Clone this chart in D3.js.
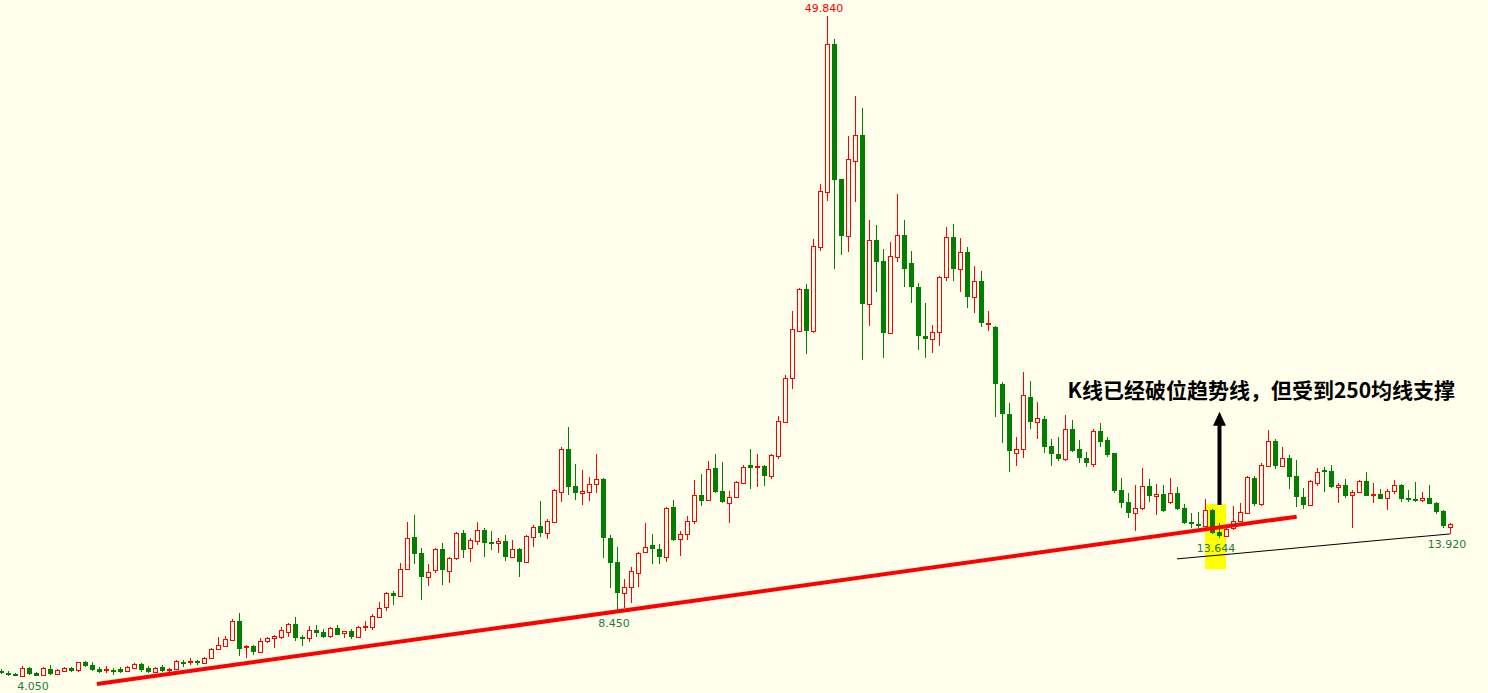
<html>
<head>
<meta charset="utf-8">
<style>
body {
  margin: 0;
  background: #ffffec;
  overflow: hidden;
}

svg {
  display: block;
}

.lbl {
  font-family: "DejaVu Sans";
  font-size: 11px;
}

.note {
  font-family: "Noto Sans CJK SC";
  font-weight: bold;
  font-size: 21px;
  fill: #000;
}
</style>
</head>
<body>
<script src="https://cdnjs.cloudflare.com/ajax/libs/d3/7.8.5/d3.min.js"></script>
<script>
// daily K-line (10 per row)
var opens = [
  4.42, 4.26, 4.19, 4.07, 4.58, 4.24, 4.10, 4.51, 4.17, 4.42,
  4.60, 4.47, 5.00, 4.79, 4.56, 4.51, 4.47, 4.51, 4.40, 4.63,
  4.86, 4.60, 4.35, 4.65, 4.45, 4.51, 5.04, 5.04, 5.07, 4.93,
  5.30, 5.90, 6.15, 6.55, 7.86, 6.04, 6.13, 5.74, 6.50, 6.66,
  6.78, 7.08, 7.66, 6.78, 6.66, 7.24, 7.08, 6.85, 7.40, 7.01,
  7.17, 6.78, 7.43, 7.47, 8.16, 8.81, 9.78, 9.62, 11.45, 13.67,
  12.60, 10.94, 11.37, 12.86, 11.35, 12.21, 13.95, 12.91, 13.43, 14.18,
  13.34, 13.29, 13.41, 12.32, 12.86, 11.98, 13.67, 14.45, 13.94, 14.75,
  16.83, 19.79, 17.23, 16.76, 16.83, 17.35, 17.72, 13.64, 11.98, 9.79,
  10.24, 11.21, 12.63, 13.11, 12.88, 12.32, 15.75, 13.53, 13.88, 14.82,
  16.58, 16.23, 18.48, 16.88, 16.07, 16.44, 17.41, 18.66, 18.54, 18.61,
  17.94, 19.33, 21.69, 24.70, 28.00, 30.89, 28.00, 33.82, 37.64, 47.88,
  38.52, 34.58, 39.79, 41.57, 29.83, 34.29, 32.83, 27.86, 33.13, 34.63,
  32.69, 31.05, 27.65, 27.42, 27.88, 31.70, 34.47, 32.25, 33.43, 30.31,
  31.44, 28.46, 28.23, 24.30, 22.22, 19.49, 19.81, 23.38, 21.64, 21.87,
  20.00, 19.42, 19.09, 21.16, 19.77, 19.17, 18.77, 21.04, 20.42, 19.49,
  16.95, 16.14, 15.33, 15.68, 17.23, 16.56, 16.67, 16.10, 16.72, 15.72,
  14.73, 14.59, 14.47, 15.56, 14.02, 13.78, 14.29, 14.82, 15.38, 17.81,
  15.96, 18.63, 20.35, 18.63, 19.15, 17.92, 16.49, 15.89, 17.46, 18.34,
  18.27, 17.18, 17.28, 16.60, 16.81, 17.55, 16.58, 16.67, 16.37, 16.86,
  17.30, 16.37, 16.30, 16.23, 16.37, 16.03, 15.52, 14.40
]

var highs = [
  4.54, 4.40, 4.24, 4.74, 4.65, 4.30, 4.69, 4.79, 4.56, 4.65,
  4.67, 5.04, 5.09, 5.04, 4.69, 4.74, 4.58, 4.65, 4.74, 4.93,
  4.93, 4.74, 4.65, 4.79, 4.60, 5.16, 5.16, 5.28, 5.16, 5.39,
  5.97, 6.74, 6.82, 7.98, 8.40, 6.18, 6.20, 6.66, 6.78, 6.89,
  7.43, 7.75, 8.16, 6.89, 7.52, 7.59, 7.29, 7.47, 7.59, 7.19,
  7.31, 7.52, 7.86, 8.35, 9.20, 9.87, 9.94, 11.91, 14.73, 15.22,
  12.93, 11.82, 12.95, 13.29, 12.32, 14.04, 14.18, 13.60, 14.75, 14.29,
  14.11, 13.60, 13.83, 13.48, 12.91, 13.83, 14.50, 16.21, 14.92, 17.00,
  19.95, 21.34, 18.75, 18.34, 17.87, 19.45, 17.76, 13.83, 13.02, 10.75,
  11.63, 12.67, 14.64, 13.90, 13.21, 15.79, 16.26, 14.11, 15.15, 17.64,
  18.07, 18.96, 19.43, 18.89, 16.90, 17.59, 18.69, 19.77, 19.43, 18.66,
  19.43, 22.08, 24.93, 29.36, 30.98, 31.24, 34.38, 38.17, 49.84, 48.20,
  38.55, 41.52, 44.27, 43.46, 35.67, 35.32, 33.66, 34.13, 37.48, 35.67,
  33.52, 31.32, 29.94, 28.41, 31.81, 35.17, 35.40, 34.44, 33.82, 32.48,
  32.15, 29.38, 28.34, 24.42, 23.00, 20.65, 25.11, 24.51, 23.07, 22.10,
  20.49, 20.61, 22.15, 21.80, 20.42, 19.56, 21.16, 21.62, 20.61, 19.52,
  17.76, 16.72, 17.30, 18.45, 17.69, 17.34, 17.30, 17.76, 17.18, 15.96,
  15.33, 15.40, 16.30, 15.63, 14.64, 14.40, 15.84, 16.07, 17.92, 17.92,
  18.80, 21.11, 20.46, 19.95, 19.38, 19.03, 17.07, 17.64, 18.45, 18.57,
  18.68, 17.46, 17.74, 16.95, 17.64, 18.20, 17.41, 17.02, 17.02, 17.64,
  17.35, 16.95, 17.48, 16.83, 17.30, 16.10, 15.56, 14.66
]

var lows = [
  4.19, 4.08, 4.06, 4.06, 4.10, 4.05, 4.08, 4.12, 4.13, 4.35,
  4.35, 4.35, 4.69, 4.42, 4.24, 4.28, 4.12, 4.24, 4.33, 4.56,
  4.35, 4.28, 4.24, 4.35, 4.35, 4.47, 4.69, 4.81, 4.81, 4.86,
  5.25, 5.85, 6.08, 6.48, 5.44, 5.32, 5.51, 5.71, 6.36, 5.97,
  6.59, 6.78, 6.50, 6.15, 6.39, 6.73, 6.71, 6.66, 6.89, 6.71,
  6.59, 6.71, 7.19, 7.24, 8.09, 8.58, 8.97, 9.55, 11.40, 11.82,
  9.32, 10.31, 11.19, 10.36, 10.51, 12.09, 12.25, 11.98, 13.14, 12.32,
  12.82, 12.60, 12.05, 12.28, 10.94, 11.91, 13.02, 13.71, 13.53, 14.73,
  16.14, 16.60, 16.26, 15.91, 16.21, 16.76, 12.21, 10.18, 8.45, 8.74,
  9.09, 10.24, 12.55, 11.85, 11.81, 11.98, 13.41, 12.39, 13.46, 14.57,
  15.86, 16.19, 16.72, 16.07, 14.68, 16.37, 17.37, 16.99, 17.14, 17.25,
  17.69, 19.10, 21.62, 23.95, 27.93, 26.36, 27.81, 33.55, 37.01, 32.28,
  33.25, 33.43, 36.94, 25.97, 28.34, 30.65, 26.12, 27.81, 32.78, 31.05,
  29.94, 26.66, 26.09, 26.43, 26.96, 31.46, 31.46, 30.66, 29.55, 29.21,
  28.24, 27.97, 22.03, 20.19, 18.18, 18.63, 19.15, 21.16, 20.49, 19.53,
  18.63, 18.96, 18.96, 19.56, 18.85, 18.55, 18.51, 19.95, 19.22, 16.76,
  15.72, 14.99, 14.13, 15.56, 16.14, 15.22, 15.44, 15.98, 15.56, 14.57,
  14.29, 14.22, 14.40, 13.88, 13.644, 13.67, 14.17, 14.75, 15.33, 15.84,
  15.86, 18.56, 18.42, 18.56, 17.04, 15.79, 15.61, 15.84, 17.21, 16.79,
  17.11, 16.03, 16.37, 14.30, 16.72, 16.53, 16.07, 16.30, 15.56, 16.67,
  16.10, 16.10, 16.14, 16.12, 15.98, 15.29, 14.29, 13.92
]

var closes = [
  4.24, 4.19, 4.09, 4.58, 4.17, 4.07, 4.58, 4.17, 4.47, 4.58,
  4.42, 5.00, 4.74, 4.47, 4.35, 4.55, 4.40, 4.35, 4.65, 4.88,
  4.47, 4.35, 4.58, 4.40, 4.51, 5.11, 4.97, 5.11, 5.00, 5.32,
  5.90, 6.20, 6.60, 7.86, 5.94, 6.13, 5.74, 6.48, 6.66, 6.82,
  7.24, 7.66, 6.71, 6.69, 7.24, 7.05, 6.78, 7.40, 6.91, 7.17,
  6.78, 7.43, 7.52, 8.21, 8.74, 9.78, 9.62, 11.45, 13.60, 12.51,
  10.94, 11.28, 12.86, 11.40, 12.21, 13.95, 12.79, 13.48, 14.18, 13.29,
  13.20, 13.39, 12.32, 12.84, 11.98, 13.76, 14.40, 13.94, 14.80, 16.95,
  19.79, 17.18, 16.76, 16.88, 17.35, 17.69, 13.60, 11.91, 9.79, 10.24,
  11.35, 12.60, 13.02, 12.88, 12.32, 15.68, 13.48, 13.90, 14.82, 16.58,
  16.21, 18.43, 16.81, 16.14, 16.44, 17.48, 18.57, 18.49, 18.59, 17.94,
  19.36, 21.73, 24.70, 28.09, 30.89, 28.00, 33.87, 37.68, 47.88, 38.45,
  34.58, 39.88, 41.57, 29.85, 34.29, 32.78, 27.81, 33.18, 34.61, 32.25,
  31.01, 27.60, 27.42, 27.93, 31.74, 34.47, 32.25, 33.43, 30.31, 31.44,
  28.52, 28.53, 24.28, 22.20, 19.65, 19.77, 23.52, 21.64, 21.92, 19.95,
  19.42, 19.09, 21.16, 19.68, 19.15, 18.80, 21.04, 20.30, 19.38, 16.90,
  16.07, 15.38, 15.72, 17.23, 16.56, 16.65, 15.51, 16.72, 15.63, 14.68,
  14.57, 14.47, 15.56, 13.99, 13.78, 14.22, 14.82, 15.40, 17.83, 15.96,
  18.68, 20.35, 18.63, 19.15, 17.83, 16.49, 15.91, 17.55, 18.22, 18.22,
  17.18, 17.28, 16.55, 16.81, 17.55, 16.55, 16.67, 16.35, 16.86, 17.28,
  16.33, 16.28, 16.21, 16.37, 16.00, 15.45, 14.47, 14.57
]

// 250-day average, only the part that is drawn
var maIdx = [168, 172, 176, 180, 184, 188, 192, 196, 200, 204, 207]
var maVals = [12.17, 12.35, 12.52, 12.70, 12.88, 13.06, 13.24, 13.42, 13.60, 13.77, 13.90]

// hand drawn trend line (candle index, price)
var trendIdx = [13.7, 185.1]
var trendPrice = [3.50, 15.10]

// yellow box + arrow
var boxIdx = [172, 175]
var boxPrice = [11.45, 15.98]
var arrowIdx = 174
var arrowPrice = [15.91, 22.38]

var noteText = "K线已经破位趋势线，但受到250均线支撑"

// marked extremes: [candle index, value text, is high]
var marks = [
  [118, "49.840", true],
  [5, "4.050", false],
  [88, "8.450", false],
  [174, "13.644", false],
  [207, "13.920", false]
]

var width = 1488,
    height = 693;

var up = "#ff0000",
    down = "#007f00",
    bg = "#ffffec";

var svg = d3.select("body")
  .append("svg")
  .attr("width", width)
  .attr("height", height)

var x = d3.scaleLinear().domain([0, opens.length - 1]).range([1, 1 + 7 * (opens.length - 1)])
var y = d3.scaleLinear().domain([4.05, 49.84]).range([676, 15.7])

var candles = opens.map(function(o, i) {
  return { i: i, open: o, high: highs[i], low: lows[i], close: closes[i] }
})

// highlight box sits behind everything
svg.append("rect")
  .attr("x", x(boxIdx[0]))
  .attr("y", y(boxPrice[1]))
  .attr("width", x(boxIdx[1]) - x(boxIdx[0]))
  .attr("height", y(boxPrice[0]) - y(boxPrice[1]))
  .attr("fill", "#ffff00")

var maLine = d3.line()
  .x(function(d, k) { return x(maIdx[k]) })
  .y(function(d) { return y(d) })

svg.append("path")
  .attr("d", maLine(maVals))
  .attr("fill", "none")
  .attr("stroke", "#000")
  .attr("stroke-width", 1)

var g = svg.selectAll("g.candle")
  .data(candles)
  .enter().append("g")
  .attr("class", "candle")

g.each(function(d) {
  var el = d3.select(this)
  var cx = x(d.i)
  var isUp = d.close >= d.open
  var top = Math.round(y(Math.max(d.open, d.close)))
  var bot = Math.round(y(Math.min(d.open, d.close)))
  var hi = Math.round(y(d.high))
  var lo = Math.round(y(d.low))
  var col = isUp ? up : down
  var h = Math.max(bot - top, 1)

  if (isUp) {
    if (hi < top) {
      el.append("line").attr("x1", cx + 0.5).attr("x2", cx + 0.5)
        .attr("y1", hi).attr("y2", top).attr("stroke", col)
    }
    if (lo > bot) {
      el.append("line").attr("x1", cx + 0.5).attr("x2", cx + 0.5)
        .attr("y1", bot).attr("y2", lo).attr("stroke", col)
    }
    el.append("rect")
      .attr("x", cx - 1.5)
      .attr("y", top + 0.5)
      .attr("width", 4)
      .attr("height", h)
      .attr("fill", bg)
      .attr("stroke", col)
      .attr("stroke-width", 1)
  } else {
    el.append("line").attr("x1", cx + 0.5).attr("x2", cx + 0.5)
      .attr("y1", hi).attr("y2", lo).attr("stroke", col)
    el.append("rect")
      .attr("x", cx - 2)
      .attr("y", top)
      .attr("width", 5)
      .attr("height", Math.max(h, 2))
      .attr("fill", col)
  }
})

// trend line on top of the candles
svg.append("line")
  .attr("x1", x(trendIdx[0]))
  .attr("y1", y(trendPrice[0]))
  .attr("x2", x(trendIdx[1]))
  .attr("y2", y(trendPrice[1]))
  .attr("stroke", "#ff0000")
  .attr("stroke-width", 4)

// arrow
var ax = x(arrowIdx) + 0.5,
    aBot = y(arrowPrice[0]),
    aTop = y(arrowPrice[1]);

svg.append("line")
  .attr("x1", ax).attr("x2", ax)
  .attr("y1", aBot).attr("y2", aTop + 12)
  .attr("stroke", "#000")
  .attr("stroke-width", 4)

svg.append("path")
  .attr("d", "M" + ax + "," + aTop + " L" + (ax + 6.5) + "," + (aTop + 14) + " L" + (ax - 6.5) + "," + (aTop + 14) + " Z")
  .attr("fill", "#000")

svg.append("text")
  .attr("class", "note")
  .attr("x", ax - 152)
  .attr("y", aTop - 14)
  .text(noteText)

// value labels at the extremes
svg.selectAll("text.lbl")
  .data(marks)
  .enter().append("text")
  .attr("class", "lbl")
  .attr("text-anchor", "middle")
  .attr("x", function(d) { return x(d[0]) - 3 })
  .attr("y", function(d) {
    return d[2] ? y(highs[d[0]]) - 4 : y(lows[d[0]]) + 14
  })
  .attr("fill", function(d) { return d[2] ? "#ff0000" : "#1f7a3c" })
  .text(function(d) { return d[1] })
</script>
</body>
</html>
